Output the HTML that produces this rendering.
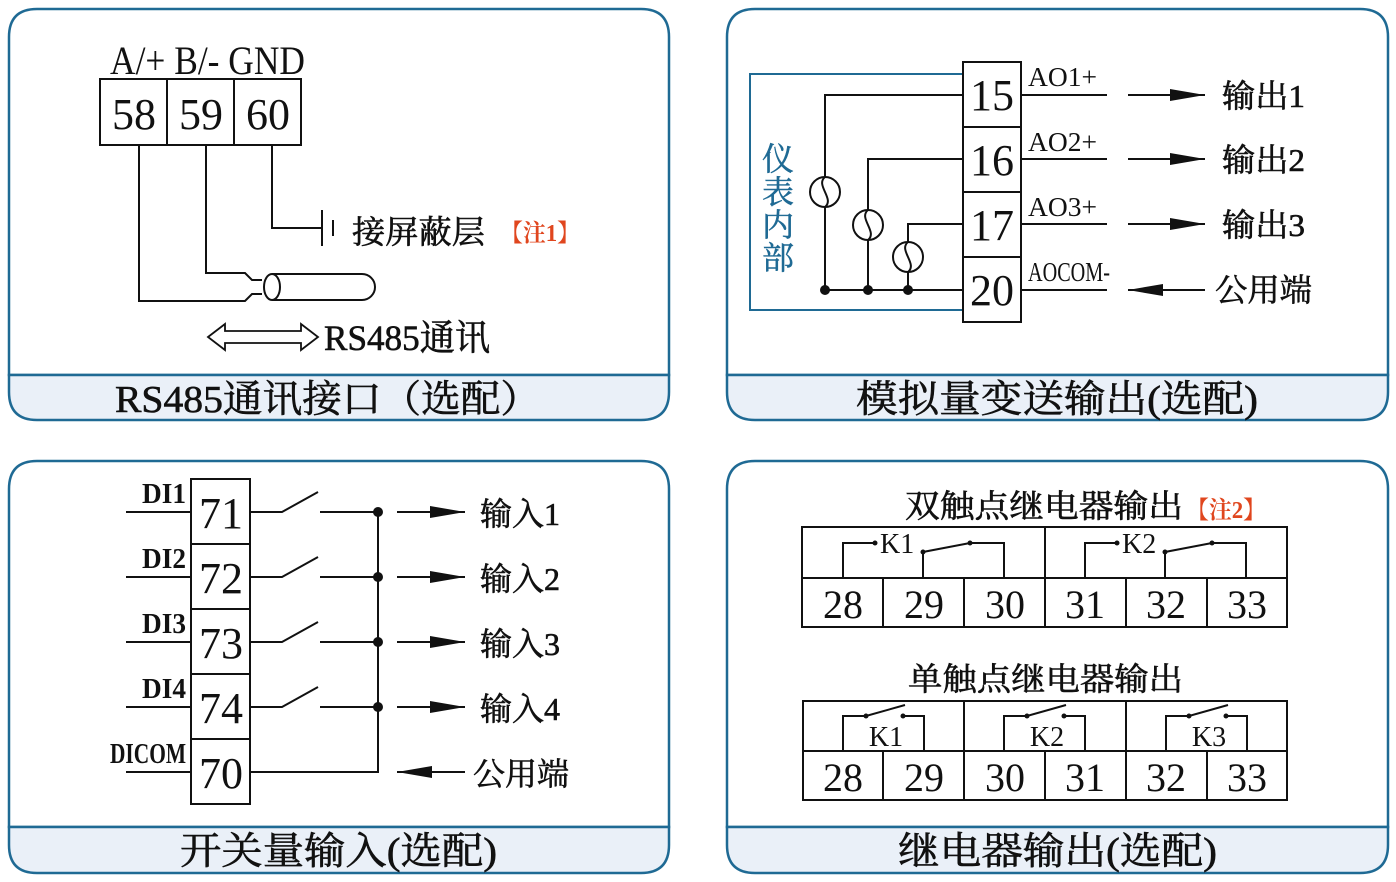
<!DOCTYPE html>
<html><head><meta charset="utf-8"><style>
html,body{margin:0;padding:0;background:#fff;}
svg{display:block;}
text{font-family:"Liberation Serif","Noto Serif CJK SC",serif;fill:#111;}
.b{stroke:#111;stroke-width:0.6;}
</style></head><body>
<svg width="1396" height="882" viewBox="0 0 1396 882" xmlns="http://www.w3.org/2000/svg">
<g fill="none" stroke="#1f6a94" stroke-width="2.5">
<path d="M9,375 V37 Q9,9 37,9 H641 Q669,9 669,37 V375 Z" fill="#fff"/>
<path d="M9,375 H669 V392 Q669,420 641,420 H37 Q9,420 9,392 Z" fill="#eaf0f8"/>
<path d="M727,375 V37 Q727,9 755,9 H1360 Q1388,9 1388,37 V375 Z" fill="#fff"/>
<path d="M727,375 H1388 V392 Q1388,420 1360,420 H755 Q727,420 727,392 Z" fill="#eaf0f8"/>
<path d="M9,827 V489 Q9,461 37,461 H641 Q669,461 669,489 V827 Z" fill="#fff"/>
<path d="M9,827 H669 V845 Q669,873 641,873 H37 Q9,873 9,845 Z" fill="#eaf0f8"/>
<path d="M727,827 V489 Q727,461 755,461 H1360 Q1388,461 1388,489 V827 Z" fill="#eaf0f8" style="fill:#fff"/>
<path d="M727,827 H1388 V845 Q1388,873 1360,873 H755 Q727,873 727,845 Z" fill="#eaf0f8"/>
</g>
<g font-size="38" class="b">
<text x="115" y="412" textLength="425" lengthAdjust="spacingAndGlyphs">RS485通讯接口（选配）</text>
<text x="856" y="412" textLength="402" lengthAdjust="spacingAndGlyphs">模拟量变送输出(选配)</text>
<text x="180" y="864" textLength="317" lengthAdjust="spacingAndGlyphs">开关量输入(选配)</text>
<text x="898" y="864" textLength="319" lengthAdjust="spacingAndGlyphs">继电器输出(选配)</text>
</g>

<!-- Panel 1 -->
<g stroke="#111" stroke-width="2" fill="none">
<rect x="100" y="79" width="201" height="66"/>
<line x1="167" y1="79" x2="167" y2="145"/><line x1="234" y1="79" x2="234" y2="145"/>
<polyline points="139,145 139,301 245,301 252,294 262,294"/>
<polyline points="206,145 206,273 245,273 252,280 262,280"/>
<polyline points="272,145 272,228 322,228"/>
<line x1="322" y1="210" x2="322" y2="246"/><line x1="333" y1="220" x2="333" y2="236"/>
<ellipse cx="272" cy="287" rx="8" ry="13"/>
<path d="M272,274 H362 A13,13 0 0 1 362,300 H272"/>
<path d="M208,337 L225,324 V331 H301 V324 L318,337 L301,350 V343 H225 V350 Z" stroke-width="1.8"/>
</g>
<text x="110" y="74" font-size="40" textLength="195" lengthAdjust="spacingAndGlyphs">A/+ B/- GND</text>
<g font-size="44" text-anchor="middle"><text x="134" y="129">58</text><text x="201" y="129">59</text><text x="268" y="129">60</text></g>
<text x="352" y="243" font-size="32" class="b" textLength="133" lengthAdjust="spacingAndGlyphs">接屏蔽层</text>
<text x="500" y="241" font-size="24" font-weight="bold" style="fill:#e0461e" textLength="80" lengthAdjust="spacingAndGlyphs">【注1】</text>
<text x="324" y="350" font-size="36" class="b" textLength="166" lengthAdjust="spacingAndGlyphs">RS485通讯</text>

<!-- Panel 2 -->
<rect x="750" y="74" width="213" height="236" fill="none" stroke="#1f6a94" stroke-width="2"/>
<g font-size="32" text-anchor="middle" style="fill:#1f6a94" stroke="#1f6a94" stroke-width="0.5">
<text x="778" y="170" style="fill:#1f6a94">仪</text><text x="778" y="203" style="fill:#1f6a94">表</text><text x="778" y="236" style="fill:#1f6a94">内</text><text x="778" y="269" style="fill:#1f6a94">部</text>
</g>
<g stroke="#111" stroke-width="2" fill="none">
<rect x="963" y="62" width="58" height="260" fill="#fff"/>
<line x1="963" y1="127" x2="1021" y2="127"/><line x1="963" y1="192" x2="1021" y2="192"/><line x1="963" y1="257" x2="1021" y2="257"/>
<polyline points="963,95 825,95 825,290 963,290"/>
<polyline points="963,159 868,159 868,290"/>
<polyline points="963,224 908,224 908,290"/>
<circle cx="825" cy="192" r="15" fill="#fff"/><circle cx="868" cy="225" r="15" fill="#fff"/><circle cx="908" cy="257" r="15" fill="#fff"/>
<path d="M825,177 C815,185 835,199 825,207 M868,210 C858,218 878,232 868,240 M908,242 C898,250 918,264 908,272"/>
<line x1="1021" y1="95" x2="1107" y2="95"/><line x1="1021" y1="159" x2="1107" y2="159"/><line x1="1021" y1="224" x2="1107" y2="224"/><line x1="1021" y1="290" x2="1107" y2="290"/>
<line x1="1128" y1="95" x2="1205" y2="95"/><line x1="1128" y1="159" x2="1205" y2="159"/><line x1="1128" y1="224" x2="1205" y2="224"/><line x1="1128" y1="290" x2="1205" y2="290"/>
</g>
<g fill="#111"><path d="M1205,95 L1170,89 L1170,101Z"/><path d="M1205,159 L1170,153 L1170,165Z"/><path d="M1205,224 L1170,218 L1170,230Z"/><path d="M1128,290 L1163,284 L1163,296Z"/>
<circle cx="825" cy="290" r="5"/><circle cx="868" cy="290" r="5"/><circle cx="908" cy="290" r="5"/></g>
<g font-size="44" text-anchor="middle"><text x="992" y="110">15</text><text x="992" y="175">16</text><text x="992" y="240">17</text><text x="992" y="305">20</text></g>
<g font-size="27"><text x="1028" y="86" textLength="69" lengthAdjust="spacingAndGlyphs">AO1+</text><text x="1028" y="151" textLength="69" lengthAdjust="spacingAndGlyphs">AO2+</text><text x="1028" y="216" textLength="69" lengthAdjust="spacingAndGlyphs">AO3+</text><text x="1028" y="281" textLength="82" lengthAdjust="spacingAndGlyphs">AOCOM-</text></g>
<g font-size="32" class="b"><text x="1222" y="107" textLength="83" lengthAdjust="spacingAndGlyphs">输出1</text><text x="1222" y="171" textLength="83" lengthAdjust="spacingAndGlyphs">输出2</text><text x="1222" y="236" textLength="83" lengthAdjust="spacingAndGlyphs">输出3</text><text x="1215" y="301" textLength="97" lengthAdjust="spacingAndGlyphs">公用端</text></g>

<!-- Panel 3 -->
<g stroke="#111" stroke-width="2" fill="none">
<rect x="191" y="479" width="59" height="325"/>
<line x1="191" y1="544" x2="250" y2="544"/><line x1="191" y1="609" x2="250" y2="609"/><line x1="191" y1="674" x2="250" y2="674"/><line x1="191" y1="739" x2="250" y2="739"/>
<line x1="126" y1="512" x2="191" y2="512"/><line x1="126" y1="577" x2="191" y2="577"/><line x1="126" y1="642" x2="191" y2="642"/><line x1="126" y1="707" x2="191" y2="707"/><line x1="126" y1="772" x2="191" y2="772"/>
<polyline points="250,512 282,512 318,492"/><line x1="320" y1="512" x2="378" y2="512"/>
<polyline points="250,577 282,577 318,557"/><line x1="320" y1="577" x2="378" y2="577"/>
<polyline points="250,642 282,642 318,622"/><line x1="320" y1="642" x2="378" y2="642"/>
<polyline points="250,707 282,707 318,687"/><line x1="320" y1="707" x2="378" y2="707"/>
<polyline points="250,772 378,772 378,512"/>
<line x1="397" y1="512" x2="465" y2="512"/><line x1="397" y1="577" x2="465" y2="577"/><line x1="397" y1="642" x2="465" y2="642"/><line x1="397" y1="707" x2="465" y2="707"/><line x1="397" y1="772" x2="465" y2="772"/>
</g>
<g fill="#111"><circle cx="378" cy="512" r="5"/><circle cx="378" cy="577" r="5"/><circle cx="378" cy="642" r="5"/><circle cx="378" cy="707" r="5"/>
<path d="M465,512 L430,506 L430,518Z"/><path d="M465,577 L430,571 L430,583Z"/><path d="M465,642 L430,636 L430,648Z"/><path d="M465,707 L430,701 L430,713Z"/><path d="M397,772 L432,766 L432,778Z"/></g>
<g font-size="44" text-anchor="middle"><text x="221" y="528">71</text><text x="221" y="593">72</text><text x="221" y="658">73</text><text x="221" y="723">74</text><text x="221" y="788">70</text></g>
<g font-size="29" font-weight="bold"><text x="142" y="503" textLength="44" lengthAdjust="spacingAndGlyphs">DI1</text><text x="142" y="568" textLength="44" lengthAdjust="spacingAndGlyphs">DI2</text><text x="142" y="633" textLength="44" lengthAdjust="spacingAndGlyphs">DI3</text><text x="142" y="698" textLength="44" lengthAdjust="spacingAndGlyphs">DI4</text><text x="110" y="763" textLength="76" lengthAdjust="spacingAndGlyphs">DICOM</text></g>
<g font-size="32" class="b"><text x="480" y="525" textLength="80" lengthAdjust="spacingAndGlyphs">输入1</text><text x="480" y="590" textLength="80" lengthAdjust="spacingAndGlyphs">输入2</text><text x="480" y="655" textLength="80" lengthAdjust="spacingAndGlyphs">输入3</text><text x="480" y="720" textLength="80" lengthAdjust="spacingAndGlyphs">输入4</text><text x="473" y="785" textLength="96" lengthAdjust="spacingAndGlyphs">公用端</text></g>

<!-- Panel 4 -->
<text x="905" y="517" font-size="32" class="b" textLength="278" lengthAdjust="spacingAndGlyphs">双触点继电器输出</text>
<text x="1186" y="518" font-size="24" font-weight="bold" style="fill:#e0461e" textLength="80" lengthAdjust="spacingAndGlyphs">【注2】</text>
<text x="908" y="690" font-size="32" class="b" textLength="275" lengthAdjust="spacingAndGlyphs">单触点继电器输出</text>
<g stroke="#111" stroke-width="2" fill="none">
<rect x="802" y="527" width="485" height="100"/>
<line x1="802" y1="578" x2="1287" y2="578"/><line x1="1045" y1="527" x2="1045" y2="627"/>
<line x1="883" y1="578" x2="883" y2="627"/><line x1="964" y1="578" x2="964" y2="627"/><line x1="1126" y1="578" x2="1126" y2="627"/><line x1="1207" y1="578" x2="1207" y2="627"/>
<polyline points="843,578 843,543 875,543"/><polyline points="923,578 923,552 970,543 1004,543 1004,578"/>
<polyline points="1085,578 1085,543 1117,543"/><polyline points="1165,578 1165,552 1212,543 1246,543 1246,578"/>
<rect x="803" y="701" width="484" height="99"/>
<line x1="803" y1="751" x2="1287" y2="751"/><line x1="964" y1="701" x2="964" y2="800"/><line x1="1126" y1="701" x2="1126" y2="800"/>
<line x1="883" y1="751" x2="883" y2="800"/><line x1="1045" y1="751" x2="1045" y2="800"/><line x1="1207" y1="751" x2="1207" y2="800"/>
<polyline points="843,751 843,716 866,716 905,705"/><polyline points="903,716 924,716 924,751"/>
<polyline points="1004,751 1004,716 1027,716 1066,705"/><polyline points="1064,716 1085,716 1085,751"/>
<polyline points="1166,751 1166,716 1189,716 1228,705"/><polyline points="1226,716 1247,716 1247,751"/>
</g>
<g fill="#111"><circle cx="875" cy="543" r="2.5"/><circle cx="923" cy="552" r="2.5"/><circle cx="970" cy="543" r="2.5"/>
<circle cx="1117" cy="543" r="2.5"/><circle cx="1165" cy="552" r="2.5"/><circle cx="1212" cy="543" r="2.5"/>
<circle cx="866" cy="716" r="2.5"/><circle cx="903" cy="716" r="2.5"/><circle cx="1027" cy="716" r="2.5"/><circle cx="1064" cy="716" r="2.5"/><circle cx="1189" cy="716" r="2.5"/><circle cx="1226" cy="716" r="2.5"/></g>
<g font-size="28"><text x="880" y="553">K1</text><text x="1122" y="553">K2</text></g>
<g font-size="28" text-anchor="middle"><text x="886" y="746">K1</text><text x="1047" y="746">K2</text><text x="1209" y="746">K3</text></g>
<g font-size="40" text-anchor="middle">
<text x="843" y="618">28</text><text x="924" y="618">29</text><text x="1005" y="618">30</text><text x="1085" y="618">31</text><text x="1166" y="618">32</text><text x="1247" y="618">33</text>
<text x="843" y="791">28</text><text x="924" y="791">29</text><text x="1005" y="791">30</text><text x="1085" y="791">31</text><text x="1166" y="791">32</text><text x="1247" y="791">33</text>
</g>
</svg>
</body></html>
